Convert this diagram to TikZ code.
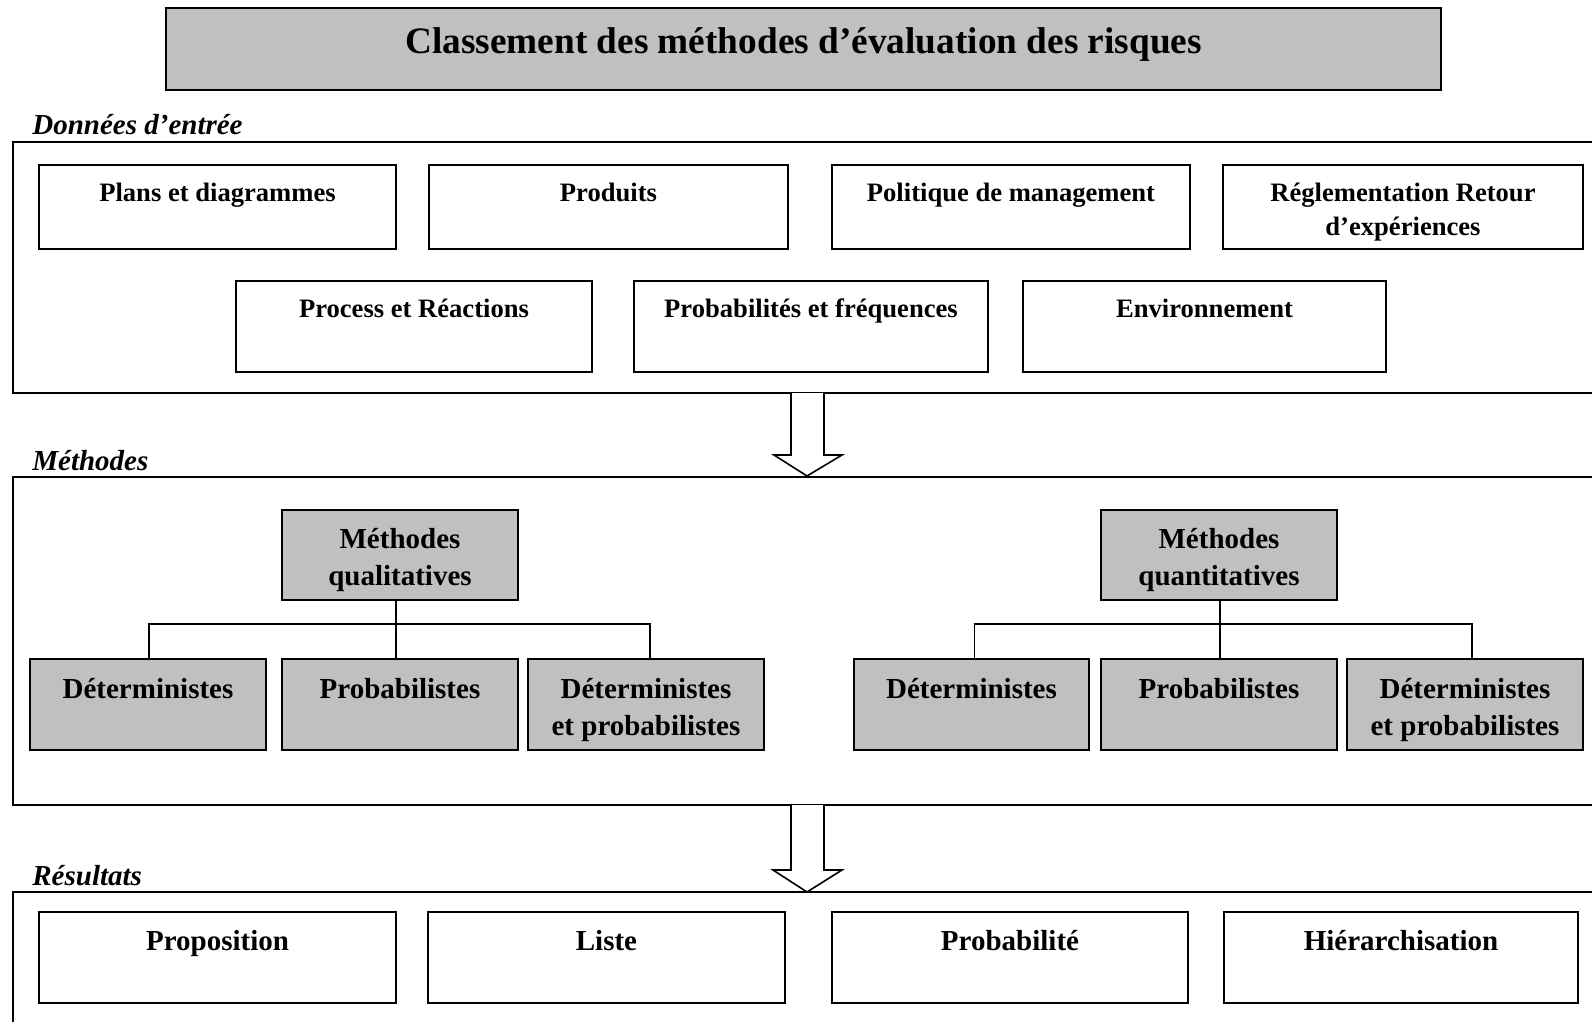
\documentclass[tikz,border=0pt]{standalone}
\usepackage{fontspec}
\setmainfont{Liberation Serif}
\newlength\ux
\setlength\ux{0.5pt}
\newcommand\bt[4]{\parbox[t][#2\ux][t]{#1\ux}{\centering\rule{0pt}{#3\ux}#4}}
\definecolor{boxgray}{HTML}{C0C0C0}
\tikzset{
  box/.style={draw, line width=1pt, fill=white, inner sep=0pt, anchor=north west,
    font=\bfseries\fontsize{13.3}{17}\selectfont},
  gbox/.style={box, fill=boxgray, font=\bfseries\fontsize{14.5}{18.5}\selectfont},
  rbox/.style={box, font=\bfseries\fontsize{14.5}{18.5}\selectfont},
  titlebox/.style={box, fill=boxgray, line width=1pt, font=\bfseries\fontsize{18.65}{22}\selectfont},
  frame/.style={line width=1.25pt},
  link/.style={line width=0.8pt},
  blockarrow/.style={line width=0.8pt, fill=white, line join=miter},
  seclabel/.style={anchor=base west, inner sep=0pt, font=\bfseries\itshape\fontsize{14.5}{17}\selectfont}
}
\begin{document}
\begin{tikzpicture}[x=0.5pt,y=-0.5pt]
\useasboundingbox (0,0) rectangle (1592,1022);

% title
\node[titlebox] (title) at (165,7) {\bt{1275}{82}{46}{Classement des méthodes d’évaluation des risques}};

% section 1
\node[seclabel] (lab1) at (32,135) {Données d’entrée};
\draw[frame] (1592,142) -- (13,142) -- (13,393) -- (1592,393);
\node[box] (plans) at (38,164) {\bt{357}{84}{37}{Plans et diagrammes}};
\node[box] (prod) at (428,164) {\bt{359}{84}{37}{Produits}};
\node[box] (polit) at (831,164) {\bt{358}{84}{37}{Politique de management}};
\node[box] (regl) at (1222,164) {\bt{360}{84}{37}{Réglementation Retour\\d’expériences}};
\node[box] (proc) at (235,280) {\bt{356}{91}{36}{Process et Réactions}};
\node[box] (proba) at (633,280) {\bt{354}{91}{36}{Probabilités et fréquences}};
\node[box] (env) at (1022,280) {\bt{363}{91}{36}{Environnement}};

% arrow 1
\draw[blockarrow] (791,393) -- (791,455) -- (774,455) -- (807,476) -- (842,455) -- (824,455) -- (824,393);

% section 2
\node[seclabel] (lab2) at (32,470) {Méthodes};
\draw[frame] (1592,477) -- (13,477) -- (13,805) -- (1592,805);

\node[gbox] (mql) at (281,509) {\bt{236}{90}{38}{Méthodes\\qualitatives}};
\node[gbox] (ld) at (29,658) {\bt{236}{91}{39}{Déterministes}};
\node[gbox] (lp) at (281,658) {\bt{236}{91}{39}{Probabilistes}};
\node[gbox] (ldp) at (527,658) {\bt{236}{91}{39}{Déterministes\\et probabilistes}};

\node[gbox] (mqt) at (1100,509) {\bt{236}{90}{38}{Méthodes\\quantitatives}};
\node[gbox] (rd) at (853,658) {\bt{235}{91}{39}{Déterministes}};
\node[gbox] (rp) at (1100,658) {\bt{236}{91}{39}{Probabilistes}};
\node[gbox] (rdp) at (1346,658) {\bt{236}{91}{39}{Déterministes\\et probabilistes}};

\draw[link] ([xshift=-2pt]mql.south) -- ([xshift=-2pt]lp.north);
\draw[link] ([xshift=0.5pt]ld.north) -- ++(0,-34) -| ([xshift=2pt]ldp.north);
\draw[link] ([xshift=0.5pt]mqt.south) -- ([xshift=0.5pt]rp.north);
\draw[link] ([xshift=1.5pt]rd.north) -- ++(0,-34) -| ([xshift=3.5pt]rdp.north);

% arrow 2
\draw[blockarrow] (791,805) -- (791,870) -- (773,870) -- (807,892) -- (842,870) -- (824,870) -- (824,805);

% section 3
\node[seclabel] (lab3) at (32,885) {Résultats};
\draw[frame] (1592,892) -- (13,892) -- (13,1022);
\node[rbox] (propo) at (38,911) {\bt{357}{91}{38}{Proposition}};
\node[rbox] (liste) at (427,911) {\bt{357}{91}{38}{Liste}};
\node[rbox] (probt) at (831,911) {\bt{356}{91}{38}{Probabilité}};
\node[rbox] (hier) at (1223,911) {\bt{354}{91}{38}{Hiérarchisation}};
\end{tikzpicture}
\end{document}
